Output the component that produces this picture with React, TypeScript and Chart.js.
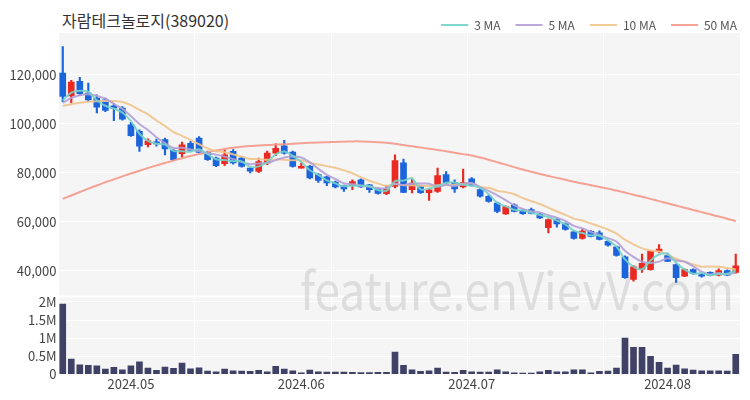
import React, { useEffect, useRef } from 'react';
import { Chart, registerables } from 'chart.js';

Chart.register(...registerables);

const title = '자람테크놀로지(389020)';
const watermark = 'feature.enVievV.com';

const dates = [
  '2024.04.19','2024.04.22','2024.04.23','2024.04.24','2024.04.25','2024.04.26','2024.04.29','2024.04.30',
  '2024.05.02','2024.05.03','2024.05.07','2024.05.08','2024.05.09','2024.05.10','2024.05.13','2024.05.14',
  '2024.05.16','2024.05.17','2024.05.20','2024.05.21','2024.05.22','2024.05.23','2024.05.24','2024.05.27',
  '2024.05.28','2024.05.29','2024.05.30','2024.05.31',
  '2024.06.03','2024.06.04','2024.06.05','2024.06.06','2024.06.07','2024.06.10','2024.06.11','2024.06.12',
  '2024.06.13','2024.06.14','2024.06.17','2024.06.18','2024.06.19','2024.06.20','2024.06.21','2024.06.24',
  '2024.06.25','2024.06.26','2024.06.27','2024.06.28',
  '2024.07.01','2024.07.02','2024.07.03','2024.07.04','2024.07.05','2024.07.08','2024.07.09','2024.07.10',
  '2024.07.11','2024.07.12','2024.07.15','2024.07.16','2024.07.17','2024.07.18','2024.07.19','2024.07.22',
  '2024.07.23','2024.07.24','2024.07.25','2024.07.26','2024.07.29','2024.07.30','2024.07.31',
  '2024.08.01','2024.08.02','2024.08.05','2024.08.06','2024.08.07','2024.08.08','2024.08.09','2024.08.12',
  '2024.08.13',
];

const opens = [
  120700,111400,117300,112500,110500,109800,107300,106400,99600,96900,
  91500,92600,93500,89100,87800,92000,94200,88300,86000,83700,
  88700,86000,81900,80500,84000,88000,91000,88400,81900,82600,
  79200,78300,76200,74700,74700,77100,75100,73400,71400,74400,
  84000,73100,74700,71800,72400,79200,76000,74200,77500,73100,
  70400,67600,63200,66900,64600,64900,63100,57500,60800,59100,
  55800,53100,56000,55400,52000,49700,45600,36400,40600,40400,
  47900,46100,42500,37700,40400,38400,39300,38100,40000,39300,
];
const highs = [
  131500,117800,119000,116600,111800,110500,108200,107000,100600,97500,
  93800,93700,94200,89500,92500,92800,94800,88800,86400,89400,
  89500,86500,82000,86000,88800,91800,93200,88800,84000,83000,
  79600,78500,76600,75000,77100,77500,75300,73700,74600,87300,
  85600,77800,75000,73200,81900,80500,77100,81500,78000,73500,
  70800,68000,66500,67300,65000,65600,63400,61200,61300,59500,
  56200,57100,56400,56300,52300,50000,46000,42100,46800,48300,
  50600,47200,42800,40700,40700,38800,39500,40700,40300,46800,
];
const lows = [
  109000,108500,111500,109000,104400,104900,101300,101500,94800,88700,
  90500,90900,87300,85000,86400,88800,88000,85000,82500,82900,
  83500,82300,79900,80000,83300,87000,87600,82300,81900,77500,
  76000,74700,73800,72400,73100,74000,72000,71200,71000,73800,
  71800,71700,71500,68700,72000,75600,72000,73800,74500,70000,
  68000,63700,63000,64000,63000,63200,61200,55400,57700,56500,
  52800,52800,53800,52500,50000,45900,36800,35700,39300,40200,
  47200,43600,35200,37500,38500,37300,37800,37800,37900,39000,
];
const closes = [
  111200,117000,112300,109800,106800,105500,106400,101900,95100,90800,
  93000,91800,89700,85300,91400,89100,88300,85300,82900,87300,
  84000,82600,80600,84600,88000,90000,88000,82600,82600,77900,
  76900,75800,74200,73400,76400,74200,73100,71500,73300,85000,
  72000,75800,71800,73000,78800,75800,73400,76000,74900,70400,
  68300,64200,66200,64200,63300,63400,61500,60800,59100,56800,
  53100,56100,54000,52700,50400,46200,37100,41500,43000,47900,
  48800,43800,37100,40400,38800,37700,38000,40000,38100,42000,
];
const volumes = [
  1950000,433000,276000,257000,248000,157000,202000,138000,248000,359000,
  184000,120000,212000,175000,322000,166000,193000,101000,83000,157000,
  110000,101000,92000,120000,83000,230000,157000,110000,55000,129000,
  83000,74000,74000,70000,65000,60000,60000,65000,65000,626000,
  257000,138000,92000,110000,184000,74000,65000,120000,83000,74000,
  74000,138000,83000,55000,46000,46000,83000,120000,83000,83000,
  138000,138000,55000,92000,101000,184000,1013000,754000,754000,506000,
  340000,184000,267000,166000,129000,110000,110000,110000,101000,561000,
];

const ma3 = [
  109500,112700,113500,113033,109633,107367,106233,104600,101133,95933,
  92967,91867,91500,88933,88800,88600,89600,87567,85500,85167,
  84733,84633,82400,82600,84400,87533,88667,86867,84400,81033,
  79133,76867,75633,74467,74667,74667,74567,72933,72633,76600,
  76767,77600,73200,73533,74533,75867,76000,75067,74767,73767,
  71200,67633,66233,64867,64567,63633,62733,61900,60467,58900,
  56333,55333,54400,54267,52367,49767,44567,41600,40533,44133,
  46567,46833,43233,40433,38767,38967,38167,38567,38700,40033,
];
const ma5 = [
  108500,110600,111700,112100,111420,110280,108160,106080,103140,99940,
  97440,94520,92080,90120,90240,89460,88760,87880,87400,86580,
  85560,84420,83480,83820,83960,85160,86240,86640,86240,84220,
  81600,79160,77480,75640,75340,74800,74260,73720,73700,75420,
  74980,75520,75580,75520,74280,75040,74560,75400,75780,74100,
  72600,70760,68800,66660,65240,64260,63720,62640,61620,60320,
  58260,57180,55820,54540,53260,51880,48080,45580,43640,43140,
  43660,45000,44120,43600,41780,39560,38400,38980,38520,39160,
];
const ma10 = [
  107300,108000,108600,109000,109200,109300,109300,108900,107600,105680,
  103860,101340,99080,96630,95090,93450,91640,89980,88760,88410,
  87510,86590,85680,85610,85270,85360,85330,85060,85030,84090,
  83380,82700,82060,80940,79780,78200,76710,75600,74670,75380,
  74890,74890,74650,74610,74850,75010,75040,75490,75650,74190,
  73820,72660,72100,71220,69670,68430,67240,65720,64140,62780,
  61260,60450,59230,58080,56790,55070,52630,50700,49090,48200,
  47770,46540,44850,43620,42460,41610,41700,41550,41060,40470,
];
const ma50 = [
  69300,70700,72100,73500,74800,76100,77300,78500,79700,80800,
  81900,83000,84000,85000,85900,86800,87600,88400,89100,89700,
  90200,90600,90900,91100,91300,91500,91600,91800,92000,92200,
  92400,92500,92600,92700,92800,92800,92700,92500,92200,91800,
  91300,90800,90300,89800,89300,88800,88200,87600,87000,86200,
  85300,84300,83300,82300,81300,80400,79500,78700,77900,77100,
  76300,75600,74900,74200,73500,72700,71900,71000,70200,69300,
  68400,67500,66600,65700,64800,63900,63000,62100,61200,60200,
];

const priceTicks = [40000, 60000, 80000, 100000, 120000];
const volumeTicks = [0, 500000, 1000000, 1500000, 2000000];
const volumeTickLabels = ['0', '0.5M', '1M', '1.5M', '2M'];

const FONT = "'Noto Sans CJK KR', 'Noto Sans', sans-serif";
const RED = '#ea2a22';
const BLUE = '#1c64dc';
const VOL = '#3f4166';
const PLOT_BG = '#f5f5f6';

export default function App() {
  const ref = useRef<HTMLCanvasElement>(null);

  useEffect(() => {
    if (!ref.current) return;
    const colors = closes.map((c, i) => (c >= opens[i] ? RED : BLUE));

    const bgPlugin = {
      id: 'plotBg',
      afterLayout(chart: any) {
        const lg = chart.legend;
        if (lg) {
          lg.left += 12;
          lg.right += 12;
        }
      },
      beforeDraw(chart: any) {
        const { ctx, chartArea, scales } = chart;
        const y = scales.y;
        const v = scales.yv;
        ctx.save();
        ctx.fillStyle = PLOT_BG;
        ctx.fillRect(chartArea.left, y.top, chartArea.right - chartArea.left, y.bottom - y.top - 1);
        ctx.fillRect(chartArea.left, v.top + 1, chartArea.right - chartArea.left, v.bottom - v.top - 1);
        ctx.restore();
      },
    };

    const watermarkPlugin = {
      id: 'watermark',
      beforeDatasetsDraw(chart: any) {
        const { ctx } = chart;
        ctx.save();
        ctx.font = `52px ${FONT}`;
        ctx.fillStyle = 'rgba(200,200,200,0.55)';
        ctx.textBaseline = 'alphabetic';
        const w = ctx.measureText(watermark).width;
        const target = 434;
        ctx.translate(300, 310);
        ctx.scale(target / w, 1);
        ctx.fillText(watermark, 0, 0);
        ctx.restore();
      },
    };

    const lineDs = (label: string, data: number[], color: string) => ({
      type: 'line' as const,
      label,
      data,
      yAxisID: 'y',
      borderColor: color,
      backgroundColor: color,
      borderWidth: 2,
      pointRadius: 0,
      tension: 0.35,
      order: 0,
    });

    const chart = new Chart(ref.current, {
      type: 'bar',
      data: {
        labels: dates,
        datasets: [
          lineDs('3 MA', ma3, 'rgba(118,210,200,0.9)'),
          lineDs('5 MA', ma5, 'rgba(178,160,214,0.9)'),
          lineDs('10 MA', ma10, 'rgba(240,196,140,0.9)'),
          lineDs('50 MA', ma50, 'rgba(245,152,136,0.9)'),
          {
            type: 'bar',
            label: 'body',
            data: opens.map((o, i) => [o, closes[i]]) as any,
            yAxisID: 'y',
            backgroundColor: colors,
            barThickness: 6,
            grouped: false,
            minBarLength: 1,
            order: 1,
          },
          {
            type: 'bar',
            label: 'wick',
            data: lows.map((l, i) => [l, highs[i]]) as any,
            yAxisID: 'y',
            backgroundColor: colors,
            barThickness: 1.5,
            grouped: false,
            order: 2,
          },
          {
            type: 'bar',
            label: 'volume',
            data: volumes,
            yAxisID: 'yv',
            backgroundColor: VOL,
            barPercentage: 0.78,
            categoryPercentage: 1,
            grouped: false,
            order: 3,
          },
        ],
      },
      options: {
        animation: false,
        responsive: true,
        maintainAspectRatio: false,
        events: [],
        layout: { padding: { left: 8.5, right: 10, top: 4, bottom: 6 } },
        plugins: {
          tooltip: { enabled: false },
          title: { display: false },
          legend: {
            display: true,
            position: 'top',
            align: 'end',
            maxHeight: 29,
            labels: {
              usePointStyle: true,
              pointStyle: 'line',
              pointStyleWidth: 27,
              padding: 15,
              color: '#555',
              font: { family: FONT, size: 12 },
              filter: (item: any) => item.datasetIndex < 4,
            },
          } as any,
        },
        scales: {
          x: {
            type: 'category',
            offset: true,
            border: { display: false },
            grid: {
              drawTicks: false,
              lineWidth: 1,
              color: (ctx: any) => (ctx.index % 16 === 0 ? '#ffffff' : 'rgba(0,0,0,0)'),
            },
            ticks: {
              autoSkip: false,
              maxRotation: 0,
              minRotation: 0,
              padding: 2,
              color: '#444',
              font: { family: FONT, size: 13 },
              callback: (_v: any, i: number) => {
                if (i === 0) return '';
                const m = dates[i].slice(0, 7);
                const p = dates[i - 1].slice(0, 7);
                return m !== p ? m : '';
              },
            },
          },
          yv: {
            type: 'linear',
            position: 'left',
            stack: 'main',
            stackWeight: 78,
            min: 0,
            max: 2150000,
            border: { display: false },
            grid: { color: '#ffffff', drawTicks: false },
            afterBuildTicks: (s: any) => {
              s.ticks = volumeTicks.map((v) => ({ value: v }));
            },
            afterFit: (s: any) => {
              s.width = 50;
            },
            ticks: {
              autoSkip: false,
              padding: 2,
              color: '#444',
              font: { family: FONT, size: 13 },
              callback: (v: any) => {
                const k = volumeTicks.indexOf(Number(v));
                return k >= 0 ? volumeTickLabels[k] : '';
              },
            },
          },
          y: {
            type: 'linear',
            position: 'left',
            stack: 'main',
            stackWeight: 264,
            min: 29400,
            max: 137100,
            border: { display: false },
            grid: { color: '#ffffff', drawTicks: false },
            afterBuildTicks: (s: any) => {
              s.ticks = priceTicks.map((v) => ({ value: v }));
            },
            afterFit: (s: any) => {
              s.width = 50;
            },
            ticks: {
              autoSkip: false,
              padding: 2,
              color: '#444',
              font: { family: FONT, size: 13 },
              callback: (v: any) => Number(v).toLocaleString('en-US'),
            },
          },
        } as any,
      },
      plugins: [bgPlugin, watermarkPlugin],
    });

    return () => chart.destroy();
  }, []);

  return (
    <div style={{ position: 'absolute', left: 0, top: 0, width: 750, height: 400, background: '#fff' }}>
      <div
        style={{
          position: 'absolute',
          left: 62,
          top: 9,
          fontFamily: FONT,
          fontSize: 16,
          lineHeight: '22px',
          color: '#333',
          whiteSpace: 'nowrap',
        }}
      >
        {title}
      </div>
      <div style={{ position: 'absolute', left: 0, top: 0, width: 750, height: 400 }}>
        <canvas ref={ref} />
      </div>
    </div>
  );
}
